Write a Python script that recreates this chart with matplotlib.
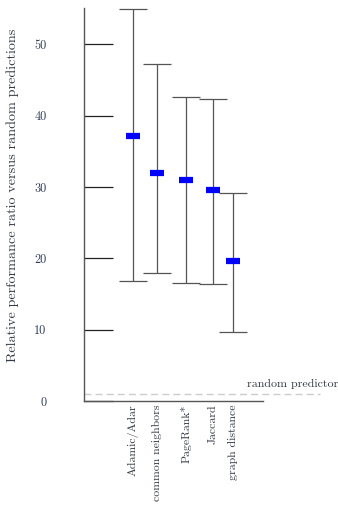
import numpy as np
import matplotlib
matplotlib.use("Agg")
import matplotlib.pyplot as plt

plt.rcParams['font.family'] = ['cmr10', 'DejaVu Serif']
plt.rcParams['axes.formatter.use_mathtext'] = True

methods = ["Adamic/Adar", "common neighbors", "PageRank*", "Jaccard", "graph distance"]
xpos = [49, 73, 102, 129, 149]
means = [37.1, 32.0, 31.0, 29.6, 19.6]
upper = [54.9, 47.2, 42.6, 42.3, 29.2]
lower = [16.8, 18.0, 16.6, 16.4, 9.7]
random_level = 1.0
yticks = [0, 10, 20, 30, 40, 50]

means = np.array(means)
yerr = [means - np.array(lower), np.array(upper) - means]

fig = plt.figure(figsize=(3.38, 5.05), dpi=100)
ax = fig.add_axes([84/338, 104/505, 179/338, 393/505])

txt = '#333a45'

ax.errorbar(xpos, means, yerr=yerr, fmt='none', ecolor='#555555',
            elinewidth=0.9, capsize=10, capthick=0.9, zorder=2)
ax.plot(xpos, means, linestyle='none', marker='_', markersize=10.5,
        markeredgewidth=4.5, color='#0000ff', zorder=3)

ax.plot([0, 236], [random_level, random_level], linestyle=(0, (5, 3)),
        color='#cccccc', linewidth=1.0, clip_on=False, zorder=1)
ax.text(254, random_level + 0.7, "random predictor", ha='right', va='bottom',
        fontsize=8.6, color=txt)

ax.set_xlim(0, 179)
ax.set_ylim(0, 55.1)

ax.set_yticks(yticks)
ax.set_yticklabels([str(t) for t in yticks], fontsize=8.8, color='#2b3a55')
ax.tick_params(axis='y', direction='in', length=21, width=0.9, color='#222222', pad=27)

ax.set_xticks(xpos)
ax.set_xticklabels(methods, rotation=90, fontsize=8.5, color=txt)
ax.tick_params(axis='x', length=0, pad=2.5)

for s in ['top', 'right']:
    ax.spines[s].set_visible(False)
for s in ['left', 'bottom']:
    ax.spines[s].set_color('#555555')
    ax.spines[s].set_linewidth(1.0)

ax.set_ylabel("Relative performance ratio versus random predictions",
              fontsize=10.2, color=txt)
ax.yaxis.set_label_coords(-0.365, 0.524)

fig.savefig("out.png", dpi=100)
